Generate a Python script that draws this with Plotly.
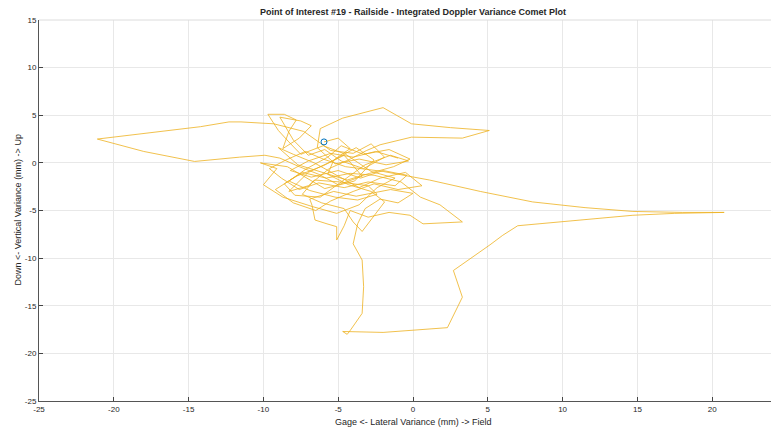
import plotly.graph_objects as go

# Comet trail (lateral, vertical) variance in mm
lateral = [
    -1.0, -2.5, -4.0, -5.5, -7.0, -8.2, -6.8, -5.0, -3.5, -2.0, -0.4, -1.2, -3.0, -4.6, -6.3, -7.6, -8.8, -9.6, -8.5, -7.2, -6.0, -4.5,
    -2.0, 1.1, 4.5, 8.0, 11.5, 14.7, 18.0, 20.8, 17.5, 14.7, 10.5, 7.0, 6.0, 5.15, 2.7, 3.3, 2.3, -2.0, -4.7, -4.4, -4.2, -3.4, -3.3, -3.4,
    -4.0, -3.7, -3.2, -2.2, -1.0, 0.0, -1.5, -3.8, -5.3, -6.9, -6.75, -6.55, -5.75, -5.1, -5.1, -4.6, -4.2, -3.0, -1.6, -0.2, 0.67, 3.3,
    1.8, 0.5, -0.8, -2.6, -4.2, -5.8, -7.4, -8.6, -7.9, -6.2, -4.8, -3.2, -1.5, -0.3, -1.8, -3.6, -5.2,
    -6.4, -6.2, -4.7, -2.0, -0.1, 2.5, 5.1, 3.3, -0.1, -2.2, -3.1, -4.2, -5.6, -7.0, -8.3, -7.0, -5.4, -3.8, -2.6, -3.9, -5.9,
    -8.4, -10.2, -9.1, -10.0, -8.7, -6.7, -5.1, -3.6, -2.4, -1.2, -2.8, -4.5, -6.0, -7.5,
    -8.3, -9.0, -9.7, -8.6, -7.8, -8.3, -8.7, -7.6, -6.8, -7.5, -8.9, -8.0, -7.0, -5.9, -4.8, -3.3, -1.9, -2.8, -4.0, -5.5, -7.3,
    -9.3, -11.5, -12.3, -14.2, -17.5, -21.1, -18.0, -14.6, -11.6, -9.9, -8.9, -7.6, -6.3, -5.0, -3.4, -4.6,
    -6.0, -7.8, -9.2, -8.0, -6.5, -5.5, -4.0, -2.6, -1.0, 0.6, -0.5, -2.2, -3.6, -5.1, -6.6, -8.0, -9.0, -7.7, -6.1, -4.4,
    -2.9, -1.3, -0.2, -1.6, -3.3, -4.8, -5.7, -7.1, -8.3, -6.9, -5.2, -3.7, -2.4, -3.0, -4.9, -6.6, -7.4, -6.1, -4.6, -4.0,
    -3.4, -2.6, -1.9, -2.8, -4.3, -5.7, -5.3, -4.2, -5.0, -5.95,
]
vertical = [
    0.5, 1.2, 0.6, 1.0, 0.2, -0.8, -1.5, -0.8, -1.6, -0.8, -1.3, -2.4, -2.0, -2.6, -2.1, -2.8, -1.6, -0.6, 0.3, 1.2, 0.4, -0.4,
    -0.9, -1.8, -3.0, -4.1, -4.7, -5.1, -5.2, -5.2, -5.3, -5.5, -6.1, -6.6, -7.6, -8.6, -11.3, -14.1, -17.3, -17.8, -17.7, -18.0, -17.6, -15.8, -13.0, -10.2,
    -8.5, -6.4, -4.8, -3.8, -4.2, -3.2, -2.8, -3.5, -3.0, -3.8, -4.45, -6.0, -6.4, -6.7, -8.1, -6.6, -5.0, -5.7, -5.2, -5.5, -6.4, -6.2,
    -4.4, -3.6, -2.0, -1.3, -1.1, -1.6, -1.0, -2.2, -3.4, -3.6, -2.0, -0.2, 0.8, 0.2, -0.2, 0.4, -0.1,
    1.6, 3.6, 4.7, 5.8, 4.1, 3.7, 3.4, 2.6, 2.7, 1.9, 1.3, 0.4, -0.6, -2.4, -3.0, -1.0, 0.2, 1.6, 0.3, -1.9, -2.7,
    -0.4, 0.0, -0.6, -2.3, -3.6, -4.6, -5.3, -4.4, -2.6, -1.6, -0.9, 0.9, 1.8, 0.9,
    2.2, 3.4, 5.1, 5.1, 4.5, 3.3, 1.5, 2.6, 3.9, 4.4, 4.8, 2.4, 0.8, 1.4, 0.2, -0.6, 0.6, 2.0, 1.0, 1.3, 3.3,
    4.1, 4.3, 4.3, 3.8, 3.2, 2.5, 1.2, 0.15, 0.6, 0.8, 0.5, -0.4, -1.2, -2.3, -1.4, 0.8,
    -0.3, -1.4, -2.8, -4.2, -5.0, -4.0, -3.0, -2.2, -2.8, -2.4, -1.0, -1.6, -2.6, -1.3, 0.0, 0.9, 1.6, -0.2, -1.0, -1.8,
    -1.1, -0.4, 0.4, 1.4, 0.9, 1.8, 0.6, -0.6, -1.9, -2.9, -3.6, -3.9, -3.3, -2.4, -2.0, -1.8, -3.3, -4.2, -4.8, -6.2,
    -7.2, -5.5, -4.1, -3.0, -2.3, -1.2, 0.3, 1.5, 2.6, 2.2,
]

x_ticks = [-25, -20, -15, -10, -5, 0, 5, 10, 15, 20, 25]
y_ticks = [-25, -20, -15, -10, -5, 0, 5, 10, 15]

title_text = "Point of Interest #19 - Railside - Integrated Doppler Variance Comet Plot"
x_title = "Gage <- Lateral Variance (mm) -> Field"
y_title = "Down <- Vertical Variance (mm) -> Up"

FONT = "Liberation Sans, Arial, sans-serif"
TXT = "#262626"

fig = go.Figure()
fig.add_trace(go.Scatter(
    x=lateral, y=vertical, mode="lines",
    line=dict(color="#EDB120", width=0.8),
    hoverinfo="skip", showlegend=False,
))
fig.add_trace(go.Scatter(
    x=[lateral[-1]], y=[vertical[-1]], mode="markers",
    marker=dict(symbol="circle-open", size=6, color="#0072BD", line=dict(width=1)),
    showlegend=False,
))

axis_common = dict(
    showgrid=True, gridcolor="#e8e8e8", gridwidth=1,
    zeroline=False, ticks="inside", ticklen=4, tickcolor="#444",
    showline=True, linecolor="#555", linewidth=1, automargin=False,
    tickfont=dict(family=FONT, size=8, color=TXT),
)

# The page body adds an 8 px offset; margins compensate so the plot area
# lands where the reference has it (and runs past the right window edge).
fig.update_layout(
    width=779, height=430,
    margin=dict(l=31, r=0, t=12, b=37, autoexpand=False),
    paper_bgcolor="white", plot_bgcolor="white",
    xaxis=dict(range=[-25, 25], tickvals=x_ticks, ticktext=[str(v) for v in x_ticks],
               **axis_common),
    yaxis=dict(range=[-25, 15], tickvals=y_ticks, ticktext=[str(v) for v in y_ticks],
               **axis_common),
)
fig.add_annotation(text="<b>" + title_text + "</b>", xref="paper", yref="paper",
                   x=0.5, y=1.0197, xanchor="center", yanchor="middle", showarrow=False,
                   font=dict(family=FONT, size=9, color=TXT))
fig.add_annotation(text=x_title, xref="paper", yref="paper",
                   x=0.5, y=-0.0551, xanchor="center", yanchor="middle", showarrow=False,
                   font=dict(family=FONT, size=9, color=TXT))
fig.add_annotation(text=y_title, xref="paper", yref="paper", textangle=-90,
                   x=-0.0294, y=0.5, xanchor="center", yanchor="middle", showarrow=False,
                   font=dict(family=FONT, size=9, color=TXT))
fig.add_shape(type="line", xref="paper", yref="paper", x0=0, x1=1, y0=1, y1=1,
              line=dict(color="#dcdcdc", width=1))

fig.write_html("out.html")
